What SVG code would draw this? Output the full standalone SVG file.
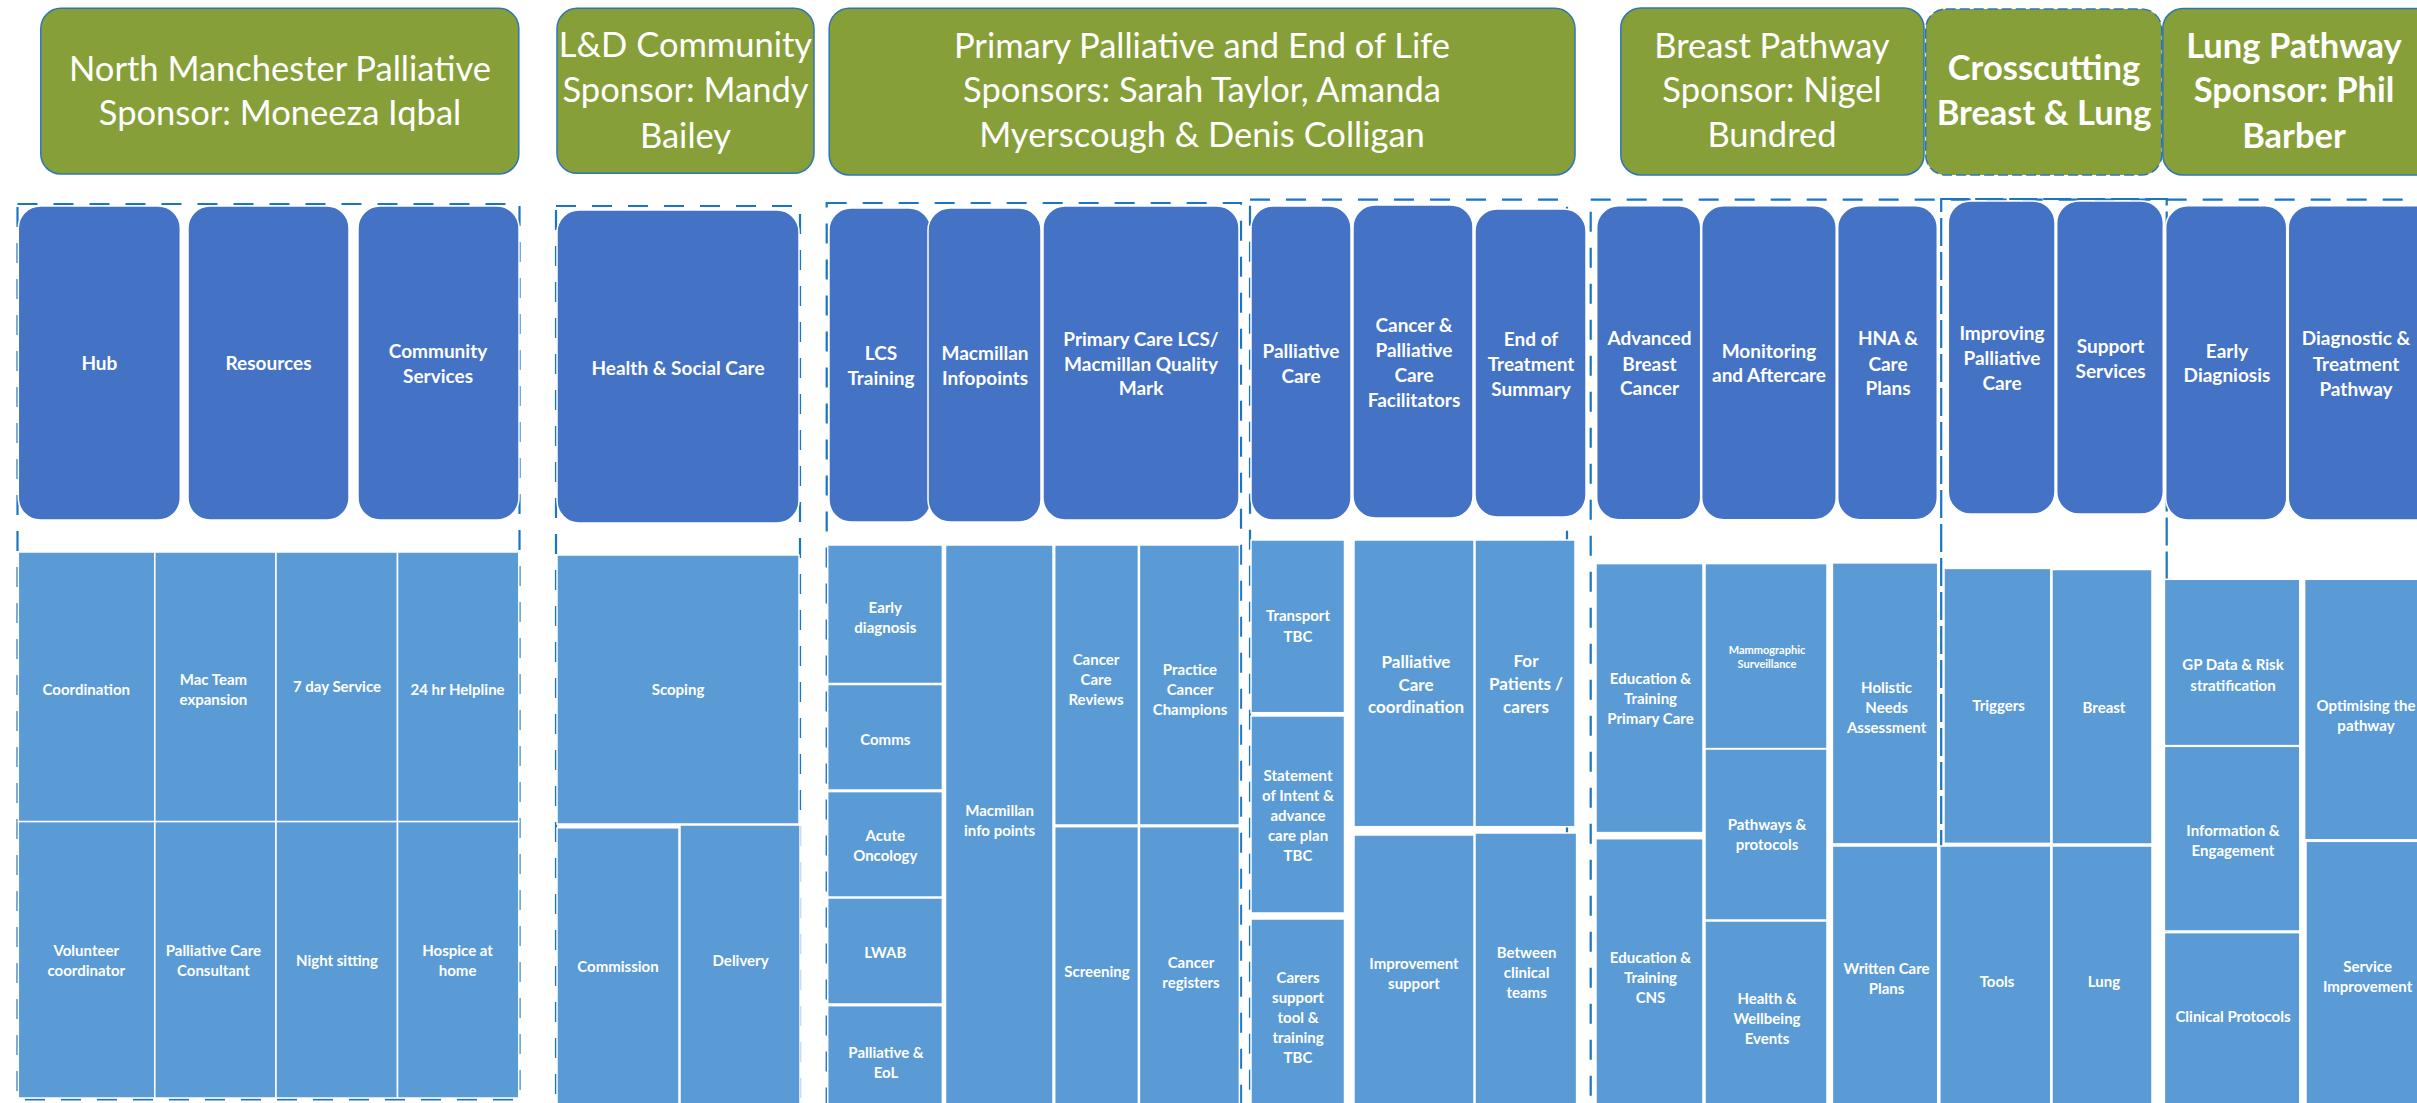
<svg xmlns="http://www.w3.org/2000/svg" width="2417" height="1103" viewBox="0 0 2417 1103">
  <style>
    .hdr { fill: #879F38; stroke: #2E75B6; stroke-width: 1.5; }
    .hdr-dash { stroke-dasharray: 10 4; }
    .ht { font-family: Lato, "Liberation Sans", sans-serif; font-size: 34.5px; fill: #ffffff; text-anchor: middle; }
    .hb { font-weight: bold; }
    .theme { fill: #4472C4; stroke: #ffffff; stroke-width: 1.5; }
    .tt { font-family: Lato, "Liberation Sans", sans-serif; font-size: 19px; font-weight: bold; fill: #ffffff; text-anchor: middle; }
    .cell { fill: #5B9BD5; stroke: #ffffff; stroke-width: 1.5; }
    .ct { font-family: Lato, "Liberation Sans", sans-serif; font-size: 15px; font-weight: bold; fill: #ffffff; text-anchor: middle; }
    .ct-l { font-size: 17px; }
    .ct-s { font-size: 11px; }
    .grp { fill: none; stroke: #1A75C2; stroke-width: 2.2; stroke-dasharray: 20 16; }
    .grp-x { stroke-dasharray: 28 6; }
  </style>
  <rect x="0" y="0" width="2417" height="1103" fill="#ffffff"/>

  <!-- Dashed workstream outlines (drawn first, so the boxes sit over them) -->
  <g id="groups">
    <rect class="grp" x="17.5" y="204" width="502" height="895.5"/>
    <rect class="grp" x="556" y="206" width="244" height="920"/>
    <rect class="grp" x="826.7" y="203" width="414.3" height="920"/>
    <rect class="grp" x="1250" y="199.7" width="317" height="920"/>
    <rect class="grp" x="1590.7" y="199.7" width="860" height="920"/>
    <rect class="grp grp-x" x="1941.2" y="199" width="225.5" height="920"/>
  </g>

  <!-- Workstream headers -->
  <g id="hdr-north-manchester">
    <rect class="hdr" x="40.8" y="8.3" width="478" height="165.7" rx="20"/>
    <text class="ht"><tspan x="280" y="80.5">North Manchester Palliative</tspan><tspan x="280" y="125">Sponsor: Moneeza Iqbal</tspan></text>
  </g>
  <g id="hdr-ld-community">
    <rect class="hdr" x="557" y="8.3" width="257" height="165" rx="20"/>
    <text class="ht"><tspan x="685.5" y="56.5">L&amp;D Community</tspan><tspan x="685.5" y="102">Sponsor: Mandy</tspan><tspan x="685.5" y="147.5">Bailey</tspan></text>
  </g>
  <g id="hdr-primary-palliative">
    <rect class="hdr" x="829.2" y="8.3" width="745.8" height="166.7" rx="20"/>
    <text class="ht"><tspan x="1202" y="58">Primary Palliative and End of Life</tspan><tspan x="1202" y="102">Sponsors: Sarah Taylor, Amanda</tspan><tspan x="1202" y="146.5">Myerscough &amp; Denis Colligan</tspan></text>
  </g>
  <g id="hdr-breast">
    <rect class="hdr" x="1620.8" y="8" width="303.2" height="167" rx="20"/>
    <text class="ht"><tspan x="1772" y="58">Breast Pathway</tspan><tspan x="1772" y="102">Sponsor: Nigel</tspan><tspan x="1772" y="147">Bundred</tspan></text>
  </g>
  <g id="hdr-crosscutting">
    <rect class="hdr hdr-dash" x="1925.7" y="9" width="236" height="166" rx="20"/>
    <text class="ht hb"><tspan x="2044" y="80">Crosscutting</tspan><tspan x="2044" y="125">Breast &amp; Lung</tspan></text>
  </g>
  <g id="hdr-lung">
    <rect class="hdr" x="2162.8" y="8.5" width="280" height="166.5" rx="20"/>
    <text class="ht hb"><tspan x="2294" y="58">Lung Pathway</tspan><tspan x="2294" y="102">Sponsor: Phil</tspan><tspan x="2294" y="148">Barber</tspan></text>
  </g>

  <!-- Themes -->
  <g id="theme-hub"><rect class="theme" x="18.3" y="206" width="162" height="314" rx="22"/><text class="tt" x="99.4" y="369.5">Hub</text></g>
  <g id="theme-resources"><rect class="theme" x="188" y="206" width="161" height="314" rx="22"/><text class="tt" x="268.5" y="369.5">Resources</text></g>
  <g id="theme-community"><rect class="theme" x="358" y="206" width="161" height="314" rx="22"/><text class="tt"><tspan x="438" y="357.5">Community</tspan><tspan x="438" y="382.5">Services</tspan></text></g>
  <g id="theme-health-social"><rect class="theme" x="557" y="210" width="242" height="313" rx="22"/><text class="tt" x="678" y="374.5">Health &amp; Social Care</text></g>
  <g id="theme-lcs-training"><rect class="theme" x="829" y="208" width="102" height="314" rx="22"/><text class="tt"><tspan x="881" y="359.5">LCS</tspan><tspan x="881" y="384.5">Training</tspan></text></g>
  <g id="theme-infopoints"><rect class="theme" x="928" y="208" width="113" height="314" rx="22"/><text class="tt"><tspan x="985" y="359.5">Macmillan</tspan><tspan x="985" y="384.5">Infopoints</tspan></text></g>
  <g id="theme-quality-mark"><rect class="theme" x="1043" y="206" width="196" height="314" rx="22"/><text class="tt"><tspan x="1141" y="345.5">Primary Care LCS/</tspan><tspan x="1141" y="370.5">Macmillan Quality</tspan><tspan x="1141" y="395">Mark</tspan></text></g>
  <g id="theme-palliative-care"><rect class="theme" x="1251" y="206" width="100" height="314" rx="22"/><text class="tt"><tspan x="1301" y="357.5">Palliative</tspan><tspan x="1301" y="382.5">Care</tspan></text></g>
  <g id="theme-facilitators"><rect class="theme" x="1353" y="205" width="120" height="313" rx="22"/><text class="tt"><tspan x="1414" y="331.5">Cancer &amp;</tspan><tspan x="1414" y="356.5">Palliative</tspan><tspan x="1414" y="381.5">Care</tspan><tspan x="1414" y="406.5">Facilitators</tspan></text></g>
  <g id="theme-eot-summary"><rect class="theme" x="1475" y="209" width="111" height="308" rx="22"/><text class="tt"><tspan x="1531" y="345.5">End of</tspan><tspan x="1531" y="370.5">Treatment</tspan><tspan x="1531" y="395.5">Summary</tspan></text></g>
  <g id="theme-advanced-breast"><rect class="theme" x="1596.7" y="205.7" width="104" height="314" rx="22"/><text class="tt"><tspan x="1649.5" y="345">Advanced</tspan><tspan x="1649.5" y="370.5">Breast</tspan><tspan x="1649.5" y="395">Cancer</tspan></text></g>
  <g id="theme-monitoring"><rect class="theme" x="1701.7" y="205.7" width="134.5" height="314" rx="22"/><text class="tt"><tspan x="1769" y="357.5">Monitoring</tspan><tspan x="1769" y="382">and Aftercare</tspan></text></g>
  <g id="theme-hna"><rect class="theme" x="1837.7" y="205.7" width="99.6" height="314" rx="22"/><text class="tt"><tspan x="1888" y="345">HNA &amp;</tspan><tspan x="1888" y="370.5">Care</tspan><tspan x="1888" y="395">Plans</tspan></text></g>
  <g id="theme-improving-palliative"><rect class="theme" x="1948.3" y="201" width="106.7" height="313" rx="22"/><text class="tt"><tspan x="2002" y="339.5">Improving</tspan><tspan x="2002" y="364.5">Palliative</tspan><tspan x="2002" y="389.5">Care</tspan></text></g>
  <g id="theme-support-services"><rect class="theme" x="2056.7" y="201" width="106.6" height="313" rx="22"/><text class="tt"><tspan x="2110.5" y="352.5">Support</tspan><tspan x="2110.5" y="377.5">Services</tspan></text></g>
  <g id="theme-early-diagnosis"><rect class="theme" x="2165.7" y="205.7" width="121" height="314.3" rx="22"/><text class="tt"><tspan x="2227" y="358">Early</tspan><tspan x="2227" y="382">Diagniosis</tspan></text></g>
  <g id="theme-diagnostic-pathway"><rect class="theme" x="2288.3" y="205.7" width="150" height="314.3" rx="22"/><text class="tt"><tspan x="2356" y="345">Diagnostic &amp;</tspan><tspan x="2356" y="370.5">Treatment</tspan><tspan x="2356" y="395.5">Pathway</tspan></text></g>

  <!-- Projects: North Manchester -->
  <g id="cell-coordination"><rect class="cell" x="18.3" y="552" width="136.5" height="269.6"/><text class="ct" x="86.3" y="695">Coordination</text></g>
  <g id="cell-macteam"><rect class="cell" x="154.8" y="552" width="121.2" height="269.6"/><text class="ct"><tspan x="213.4" y="685">Mac Team</tspan><tspan x="213.4" y="705">expansion</tspan></text></g>
  <g id="cell-7day"><rect class="cell" x="276" y="552" width="121.5" height="269.6"/><text class="ct" x="337" y="692">7 day Service</text></g>
  <g id="cell-helpline"><rect class="cell" x="397.5" y="552" width="121.3" height="269.6"/><text class="ct" x="457.6" y="695">24 hr Helpline</text></g>
  <g id="cell-volunteer"><rect class="cell" x="18.3" y="821.6" width="136.5" height="276.4"/><text class="ct"><tspan x="86.3" y="956">Volunteer</tspan><tspan x="86.3" y="976">coordinator</tspan></text></g>
  <g id="cell-consultant"><rect class="cell" x="154.8" y="821.6" width="121.2" height="276.4"/><text class="ct"><tspan x="213.4" y="956">Palliative Care</tspan><tspan x="213.4" y="976">Consultant</tspan></text></g>
  <g id="cell-night"><rect class="cell" x="276" y="821.6" width="121.5" height="276.4"/><text class="ct" x="337" y="966">Night sitting</text></g>
  <g id="cell-hospice"><rect class="cell" x="397.5" y="821.6" width="121.3" height="276.4"/><text class="ct"><tspan x="457.6" y="956">Hospice at</tspan><tspan x="457.6" y="976">home</tspan></text></g>

  <!-- Projects: L&D Community -->
  <g id="cell-scoping"><rect class="cell" x="557" y="555" width="242" height="269"/><text class="ct" x="678" y="695">Scoping</text></g>
  <g id="cell-commission"><rect class="cell" x="557" y="827.8" width="122" height="290"/><text class="ct" x="618" y="972">Commission</text></g>
  <g id="cell-delivery"><rect class="cell" x="680" y="825" width="120" height="290"/><text class="ct" x="740.6" y="966">Delivery</text></g>

  <!-- Projects: Primary care -->
  <g id="cell-early-dx"><rect class="cell" x="827.7" y="545" width="114.7" height="138.5"/><text class="ct"><tspan x="885.3" y="613">Early</tspan><tspan x="885.3" y="633">diagnosis</tspan></text></g>
  <g id="cell-comms"><rect class="cell" x="827.7" y="684.5" width="114.7" height="105.5"/><text class="ct" x="885.3" y="744.5">Comms</text></g>
  <g id="cell-acute-onc"><rect class="cell" x="827.7" y="791.6" width="114.7" height="105.4"/><text class="ct"><tspan x="885.3" y="841">Acute</tspan><tspan x="885.3" y="861">Oncology</tspan></text></g>
  <g id="cell-lwab"><rect class="cell" x="827.7" y="898" width="114.7" height="106"/><text class="ct" x="885.3" y="957.5">LWAB</text></g>
  <g id="cell-pall-eol"><rect class="cell" x="827.7" y="1005.7" width="114.7" height="110"/><text class="ct"><tspan x="886" y="1058">Palliative &amp;</tspan><tspan x="886" y="1078">EoL</tspan></text></g>
  <g id="cell-info-points"><rect class="cell" x="945.5" y="545" width="107.5" height="570"/><text class="ct"><tspan x="999.6" y="816">Macmillan</tspan><tspan x="999.6" y="836">info points</tspan></text></g>
  <g id="cell-ccr"><rect class="cell" x="1054.7" y="545" width="83.7" height="280"/><text class="ct"><tspan x="1096" y="665">Cancer</tspan><tspan x="1096" y="685">Care</tspan><tspan x="1096" y="705">Reviews</tspan></text></g>
  <g id="cell-champions"><rect class="cell" x="1139.4" y="545" width="100" height="280"/><text class="ct"><tspan x="1190" y="675">Practice</tspan><tspan x="1190" y="695">Cancer</tspan><tspan x="1190" y="715">Champions</tspan></text></g>
  <g id="cell-screening"><rect class="cell" x="1054.7" y="826.7" width="83.7" height="290"/><text class="ct" x="1097" y="977">Screening</text></g>
  <g id="cell-registers"><rect class="cell" x="1139.4" y="826.7" width="100" height="290"/><text class="ct"><tspan x="1191" y="967.5">Cancer</tspan><tspan x="1191" y="987.5">registers</tspan></text></g>

  <!-- Projects: Palliative / end of life -->
  <g id="cell-transport"><rect class="cell" x="1251" y="540" width="93.5" height="172.7"/><text class="ct"><tspan x="1298" y="621">Transport</tspan><tspan x="1298" y="642">TBC</tspan></text></g>
  <g id="cell-statement"><rect class="cell" x="1251" y="716" width="93.5" height="197"/><text class="ct"><tspan x="1298" y="781">Statement</tspan><tspan x="1298" y="801">of Intent &amp;</tspan><tspan x="1298" y="821">advance</tspan><tspan x="1298" y="841">care plan</tspan><tspan x="1298" y="861">TBC</tspan></text></g>
  <g id="cell-carers"><rect class="cell" x="1251" y="919" width="93.5" height="200"/><text class="ct"><tspan x="1298" y="983">Carers</tspan><tspan x="1298" y="1003">support</tspan><tspan x="1298" y="1023">tool &amp;</tspan><tspan x="1298" y="1043">training</tspan><tspan x="1298" y="1063">TBC</tspan></text></g>
  <g id="cell-pc-coordination"><rect class="cell" x="1354" y="540" width="120" height="286.7"/><text class="ct ct-l"><tspan x="1416" y="668">Palliative</tspan><tspan x="1416" y="690.5">Care</tspan><tspan x="1416" y="713">coordination</tspan></text></g>
  <g id="cell-patients"><rect class="cell" x="1475" y="540" width="100" height="286.7"/><text class="ct ct-l"><tspan x="1526" y="667">For</tspan><tspan x="1526" y="690">Patients /</tspan><tspan x="1526" y="712.5">carers</tspan></text></g>
  <g id="cell-improvement"><rect class="cell" x="1354" y="835" width="120" height="285"/><text class="ct"><tspan x="1414" y="968.5">Improvement</tspan><tspan x="1414" y="988.5">support</tspan></text></g>
  <g id="cell-between-teams"><rect class="cell" x="1475" y="833" width="101.6" height="285"/><text class="ct"><tspan x="1526.6" y="957.5">Between</tspan><tspan x="1526.6" y="977.5">clinical</tspan><tspan x="1526.6" y="997.5">teams</tspan></text></g>

  <!-- Projects: Breast pathway -->
  <g id="cell-edu-primary"><rect class="cell" x="1596" y="563.6" width="107" height="269"/><text class="ct"><tspan x="1650.5" y="684">Education &amp;</tspan><tspan x="1650.5" y="704">Training</tspan><tspan x="1650.5" y="724">Primary Care</tspan></text></g>
  <g id="cell-edu-cns"><rect class="cell" x="1596" y="838.7" width="107" height="280"/><text class="ct"><tspan x="1650.5" y="963">Education &amp;</tspan><tspan x="1650.5" y="983">Training</tspan><tspan x="1650.5" y="1003">CNS</tspan></text></g>
  <g id="cell-mammo"><rect class="cell" x="1705" y="563.6" width="122" height="185"/><text class="ct ct-s"><tspan x="1767" y="653.5">Mammographic</tspan><tspan x="1767" y="668">Surveillance</tspan></text></g>
  <g id="cell-pathways"><rect class="cell" x="1705" y="749" width="122" height="171"/><text class="ct"><tspan x="1767" y="830">Pathways &amp;</tspan><tspan x="1767" y="850">protocols</tspan></text></g>
  <g id="cell-wellbeing"><rect class="cell" x="1705" y="921" width="122" height="195"/><text class="ct"><tspan x="1767" y="1004">Health &amp;</tspan><tspan x="1767" y="1024">Wellbeing</tspan><tspan x="1767" y="1044">Events</tspan></text></g>
  <g id="cell-hna"><rect class="cell" x="1832.4" y="562.9" width="105.3" height="281"/><text class="ct"><tspan x="1886.6" y="693">Holistic</tspan><tspan x="1886.6" y="713">Needs</tspan><tspan x="1886.6" y="733">Assessment</tspan></text></g>
  <g id="cell-care-plans"><rect class="cell" x="1832.4" y="846" width="105.3" height="270"/><text class="ct"><tspan x="1886.6" y="973.5">Written Care</tspan><tspan x="1886.6" y="993.5">Plans</tspan></text></g>

  <!-- Projects: Crosscutting -->
  <g id="cell-triggers"><rect class="cell" x="1944" y="568.4" width="106.8" height="275"/><text class="ct" x="1998.6" y="711">Triggers</text></g>
  <g id="cell-cc-breast"><rect class="cell" x="2052" y="569.5" width="100" height="274.5"/><text class="ct" x="2104" y="713">Breast</text></g>
  <g id="cell-tools"><rect class="cell" x="1939.8" y="846" width="111" height="270"/><text class="ct" x="1997" y="987">Tools</text></g>
  <g id="cell-cc-lung"><rect class="cell" x="2052" y="846" width="100" height="270"/><text class="ct" x="2104" y="987">Lung</text></g>

  <!-- Projects: Lung pathway -->
  <g id="cell-gp-data"><rect class="cell" x="2164.4" y="579.3" width="135.4" height="166.3"/><text class="ct"><tspan x="2233" y="670">GP Data &amp; Risk</tspan><tspan x="2233" y="690.5">stratification</tspan></text></g>
  <g id="cell-engagement"><rect class="cell" x="2164.4" y="746.3" width="135.4" height="184.7"/><text class="ct"><tspan x="2233" y="835.5">Information &amp;</tspan><tspan x="2233" y="855.5">Engagement</tspan></text></g>
  <g id="cell-protocols"><rect class="cell" x="2164.4" y="932.6" width="135.4" height="185"/><text class="ct" x="2233" y="1022">Clinical Protocols</text></g>
  <g id="cell-optimising"><rect class="cell" x="2304.6" y="579.3" width="140" height="260.5"/><text class="ct"><tspan x="2366" y="710.5">Optimising the</tspan><tspan x="2366" y="730.5">pathway</tspan></text></g>
  <g id="cell-service-imp"><rect class="cell" x="2306" y="841.3" width="140" height="275"/><text class="ct"><tspan x="2367.6" y="972">Service</tspan><tspan x="2367.6" y="992">Improvement</tspan></text></g>

  <g id="connectors"/>
</svg>
